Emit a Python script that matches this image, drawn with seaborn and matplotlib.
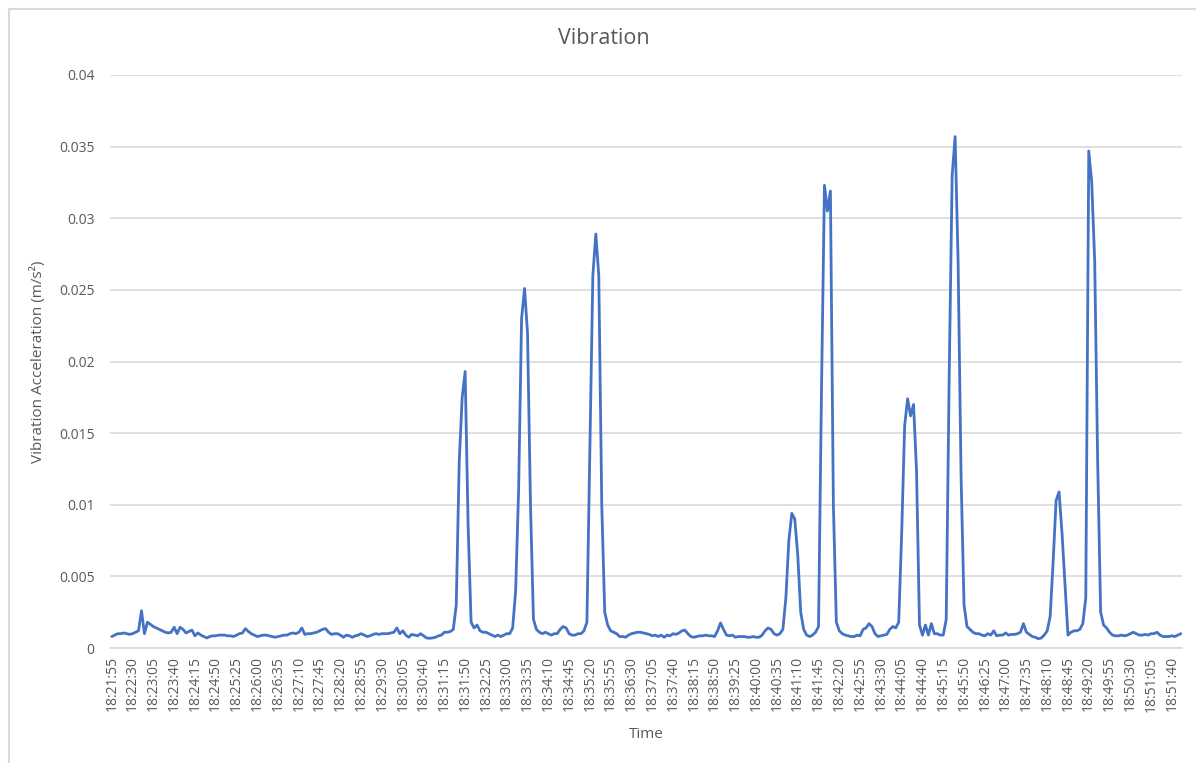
import numpy as np
import pandas as pd
import seaborn as sns
import matplotlib.pyplot as plt
from matplotlib.ticker import FuncFormatter
from matplotlib.lines import Line2D

# samples every 5 s from 18:21:55, values in 1e-3 m/s^2
start_time = "18:21:55"
step_s = 5

seg_quiet_1 = [0.8, 0.9, 1.0, 1.0, 1.05, 1.0, 0.95, 1.0, 1.1, 1.2,
               2.6, 1.0, 1.8, 1.65, 1.5, 1.4, 1.3, 1.2, 1.1, 1.05,
               1.1, 1.45, 1.0, 1.45, 1.3, 1.05, 1.15, 1.25, 0.85, 1.05,
               0.9, 0.8, 0.7, 0.8, 0.85, 0.85, 0.9, 0.9, 0.9, 0.85,
               0.85, 0.8, 0.9, 1.0, 1.05, 1.35, 1.15, 1.0, 0.9, 0.8,
               0.85, 0.9, 0.9, 0.85, 0.8, 0.75, 0.8, 0.85, 0.9, 0.9,
               1.0, 1.05, 1.0, 1.1, 1.4, 0.95, 1.0, 1.0, 1.05, 1.1,
               1.2, 1.3, 1.35, 1.1, 0.95, 1.0, 1.0, 0.9, 0.75, 0.9,
               0.85, 0.75, 0.85, 0.9, 1.0, 0.9, 0.8, 0.85, 0.95, 1.0,
               0.95, 1.0, 1.0, 1.0, 1.05, 1.1, 1.4, 1.0, 1.2, 0.9,
               0.75, 0.95, 0.9, 0.85, 1.0, 0.85, 0.7, 0.68, 0.7, 0.75,
               0.85, 0.9, 1.1, 1.1, 1.15, 1.3]
seg_peak_1 = [3.0, 13.0, 17.5, 19.3, 8.5, 1.8, 1.4, 1.6, 1.2, 1.1,
              1.1, 1.0, 0.9, 0.8, 0.9, 0.8, 0.9, 1.0, 1.0, 1.4]
seg_peak_2 = [4.0, 11.0, 23.0, 25.1, 22.0, 10.0, 2.0, 1.3, 1.1, 1.0,
              1.1, 1.0, 0.9, 1.0, 1.0, 1.3, 1.5, 1.4, 1.0, 0.9,
              0.9, 1.0, 1.0, 1.2]
seg_peak_3 = [1.8, 14.0, 26.0, 28.9, 26.0, 10.0, 2.5, 1.6, 1.2, 1.1,
              1.0, 0.8, 0.8, 0.75, 0.9, 1.0, 1.05, 1.1, 1.1, 1.05,
              1.0, 0.95, 0.85, 0.9, 0.8, 0.9, 0.75, 0.9, 0.85, 1.0,
              0.95, 1.05, 1.2, 1.25, 1.0, 0.8, 0.75, 0.8, 0.85, 0.85,
              0.9, 0.85, 0.85, 0.8, 1.2, 1.75, 1.3, 0.9, 0.85, 0.9,
              0.75, 0.8, 0.8, 0.8, 0.75, 0.75, 0.8, 0.75, 0.75, 0.9,
              1.2, 1.4, 1.3, 1.0, 0.9, 1.0, 1.3]
seg_peak_4 = [3.5, 7.5, 9.4, 9.0, 6.5, 2.5, 1.3, 0.9, 0.8, 0.9, 1.1]
seg_peak_5 = [1.5, 18.0, 32.3, 30.5, 31.9, 10.0, 1.8, 1.2, 1.0, 0.9,
              0.85, 0.8, 0.8, 0.9, 0.85, 1.3, 1.4, 1.7, 1.5, 1.0,
              0.8, 0.85, 0.9, 0.95, 1.3, 1.5, 1.4]
seg_peak_6 = [1.8, 8.0, 15.5, 17.4, 16.2, 17.0, 12.4, 1.6, 0.9, 1.6,
              0.9, 1.7, 1.0, 1.0, 0.9, 0.9, 2.0]
seg_peak_7 = [19.0, 33.0, 35.7, 27.0, 12.0, 3.0, 1.5, 1.3, 1.1, 1.0,
              1.0, 0.9, 0.85, 1.0, 0.9, 1.2, 0.85, 0.9, 0.9, 1.05,
              0.9, 0.95, 0.95, 1.0, 1.1, 1.7, 1.1, 0.95, 0.8, 0.75,
              0.65, 0.7, 0.9, 1.2]
seg_peak_8 = [2.2, 6.0, 10.3, 10.9, 8.0, 4.5, 0.9, 1.1, 1.2, 1.2,
              1.3, 1.7]
seg_peak_9 = [3.5, 34.7, 32.5, 27.0, 13.0, 2.5, 1.6, 1.4, 1.1, 0.9,
              0.85, 0.85, 0.9, 0.85, 0.9, 1.0, 1.1, 1.0, 0.9, 0.9,
              0.95, 0.9, 1.0, 1.0, 1.1, 0.9, 0.8, 0.8, 0.8, 0.85,
              0.8, 0.9, 1.0]

y_ticks = [0, 0.005, 0.01, 0.015, 0.02, 0.025, 0.03, 0.035, 0.04]
label_every = 7

vals_milli = (seg_quiet_1 + seg_peak_1 + seg_peak_2 + seg_peak_3 + seg_peak_4
              + seg_peak_5 + seg_peak_6 + seg_peak_7 + seg_peak_8 + seg_peak_9)
accel = np.array(vals_milli) / 1000.0
n = len(accel)
times = pd.date_range("2020-01-01 " + start_time, periods=n, freq=f"{step_s}s")
df = pd.DataFrame({"pos": np.arange(n), "Time": times.strftime("%H:%M:%S"), "accel": accel})

sns.set_style("white")
plt.rcParams["font.family"] = ["Open Sans", "DejaVu Sans"]
grey_txt = "#595959"

fig = plt.figure(figsize=(11.96, 7.63), dpi=100)
ax = fig.add_axes([110 / 1196, 1 - 648 / 763, (1182 - 110) / 1196, (648 - 75) / 763])

sns.lineplot(data=df, x="pos", y="accel", ax=ax, color="#4472C4", linewidth=2.0)

ax.set_ylim(0, 0.04)
ax.set_xlim(-0.6, n - 0.6)
ax.set_yticks(y_ticks)
ax.yaxis.set_major_formatter(FuncFormatter(lambda v, p: "0" if v == 0 else f"{v:g}"))
tick_pos = df["pos"][::label_every]
ax.set_xticks(tick_pos)
ax.set_xticklabels(df["Time"][::label_every], rotation=90)

ax.grid(axis="y", color="#D9D9D9", linewidth=1.2)
ax.set_axisbelow(True)
for s in ["top", "right", "left"]:
    ax.spines[s].set_visible(False)
ax.spines["bottom"].set_color("#D9D9D9")
ax.spines["bottom"].set_linewidth(1.2)
ax.tick_params(axis="both", length=0, colors=grey_txt, labelsize=10)
ax.tick_params(axis="y", pad=11)
ax.tick_params(axis="x", pad=6)

fig.text(604 / 1196, 1 - 38 / 763, "Vibration", fontsize=15.5, color=grey_txt,
         ha="center", va="center")
ax.set_ylabel("Vibration Acceleration (m/s\u00b2)", fontsize=11, color=grey_txt)
ax.set_xlabel("Time", fontsize=11, color=grey_txt)
ax.yaxis.set_label_coords(-0.06, 0.5)
ax.xaxis.set_label_coords(0.5, -0.137)

# chart area border (top and left edges visible in the screenshot)
fig.add_artist(Line2D([9 / 1196, 9 / 1196], [0, 1 - 9 / 763], transform=fig.transFigure,
                      color="#D9D9D9", linewidth=1.5))
fig.add_artist(Line2D([9 / 1196, 1], [1 - 9 / 763, 1 - 9 / 763], transform=fig.transFigure,
                      color="#D9D9D9", linewidth=1.5))

fig.savefig("out.png", dpi=100)
